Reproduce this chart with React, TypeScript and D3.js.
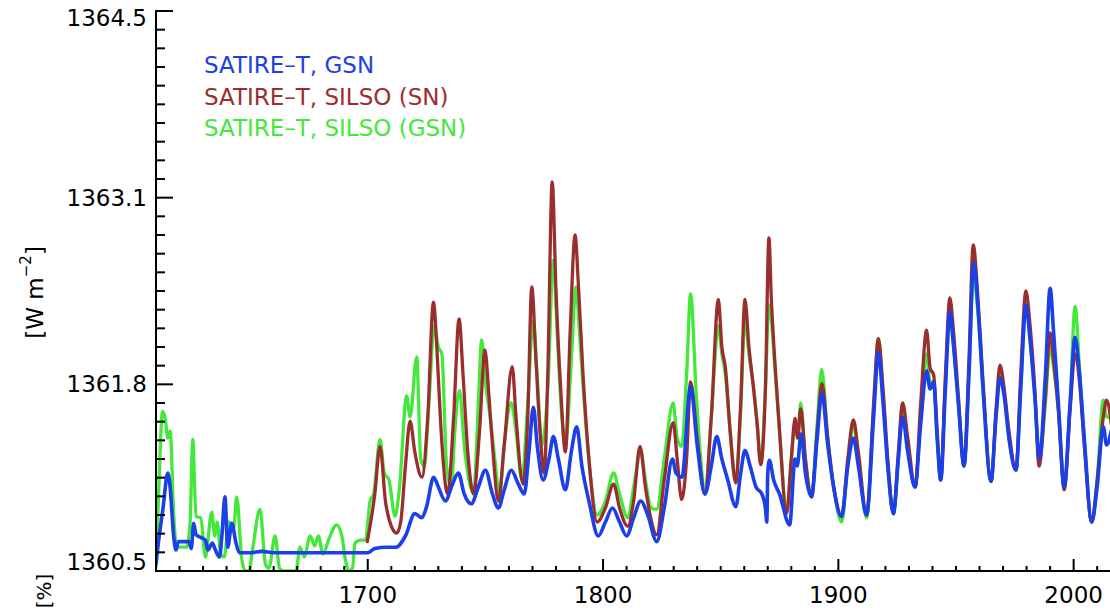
import React from "react";
import * as d3 from "d3";

// ---- data ----
const gsnSeries: [number, number][] = [
  [1610, 1360.55], [1611, 1360.7], [1613, 1360.95], [1615, 1361.2], [1616, 1361.1], [1617.5, 1360.75],
  [1618.5, 1360.65], [1619.5, 1360.71], [1624, 1360.71], [1625, 1360.66], [1626, 1360.84], [1627, 1360.76],
  [1629, 1360.74], [1631, 1360.72], [1632, 1360.65], [1634, 1360.7], [1635, 1360.66], [1637, 1360.6],
  [1638, 1360.75], [1639.3, 1361.03], [1640.5, 1360.67], [1642.2, 1360.84], [1644, 1360.7], [1645.5, 1360.63],
  [1650, 1360.63], [1655, 1360.64], [1660, 1360.63], [1680, 1360.63], [1700, 1360.63], [1703, 1360.66],
  [1708, 1360.67], [1712, 1360.67], [1716, 1360.75], [1720, 1360.91], [1723, 1360.88], [1725, 1360.96],
  [1728, 1361.17], [1730, 1361.1], [1733, 1361.0], [1736, 1361.12], [1738.5, 1361.2], [1741, 1361.05],
  [1744, 1360.98], [1747, 1361.1], [1750, 1361.22], [1753, 1361.05], [1755.5, 1360.95], [1758, 1361.08],
  [1761, 1361.22], [1764, 1361.12], [1766.5, 1361.05], [1768.5, 1361.35], [1770.4, 1361.67], [1772, 1361.4],
  [1774.5, 1361.15], [1777, 1361.3], [1778.9, 1361.46], [1781, 1361.3], [1784, 1361.08], [1786.5, 1361.35],
  [1788.8, 1361.53], [1791, 1361.25], [1794, 1361.0], [1798, 1360.75], [1801, 1360.85], [1804, 1360.95],
  [1807, 1360.85], [1810, 1360.75], [1813, 1360.88], [1816, 1361.0], [1819, 1360.9], [1822.8, 1360.71],
  [1826, 1360.95], [1829.5, 1361.3], [1831, 1361.2], [1833.5, 1361.17], [1837.2, 1361.82], [1840, 1361.4],
  [1843.3, 1361.05], [1846, 1361.25], [1848.3, 1361.46], [1850.5, 1361.3], [1853, 1361.15], [1856.4, 1360.96],
  [1858.5, 1361.2], [1860.3, 1361.36], [1862.5, 1361.25], [1865, 1361.1], [1867.5, 1361.05], [1869, 1360.95],
  [1869.6, 1360.85], [1870, 1361.2], [1870.7, 1361.29], [1872.5, 1361.15], [1875, 1361.05], [1879.3, 1360.83],
  [1881.6, 1361.3], [1882.5, 1361.25], [1884.2, 1361.48], [1886, 1361.2], [1888.6, 1361.03], [1891, 1361.45],
  [1893, 1361.77], [1895.5, 1361.4], [1898, 1361.1], [1901.4, 1360.89], [1904, 1361.25], [1906.4, 1361.45],
  [1908.5, 1361.25], [1912, 1360.9], [1915, 1361.6], [1917, 1362.06], [1919, 1361.7], [1921, 1361.25],
  [1923.4, 1360.91], [1925.5, 1361.3], [1927.3, 1361.6], [1929.5, 1361.35], [1932.6, 1361.1], [1935, 1361.55],
  [1937.5, 1361.93], [1939, 1361.8], [1940.5, 1361.85], [1942, 1361.45], [1943.5, 1361.15], [1945.5, 1361.8],
  [1947.4, 1362.35], [1949, 1362.1], [1951, 1361.7], [1953.4, 1361.25], [1955.5, 1361.9], [1957.5, 1362.7],
  [1959.5, 1362.35], [1961.5, 1361.8], [1964.9, 1361.14], [1967, 1361.6], [1968.7, 1361.88], [1970.5, 1361.75],
  [1972.5, 1361.45], [1975.5, 1361.22], [1977.5, 1361.8], [1979.7, 1362.4], [1981.5, 1362.15], [1983.5, 1361.75],
  [1985.5, 1361.3], [1988, 1361.9], [1990, 1362.52], [1991.5, 1362.2], [1993.5, 1361.7], [1996, 1361.1],
  [1998.5, 1361.7], [2000.6, 1362.17], [2002.5, 1361.9], [2004.5, 1361.45], [2007.7, 1360.85], [2010, 1361.1],
  [2012.6, 1361.53], [2014, 1361.4], [2016, 1361.5],
];

const silsoSnSeries: [number, number][] = [
  [1699.8, 1360.71], [1703, 1361.05], [1705.2, 1361.39], [1707.5, 1361.0], [1710, 1360.82], [1712.3, 1360.77],
  [1714, 1360.85], [1716, 1361.25], [1718, 1361.57], [1720, 1361.35], [1723, 1361.17], [1725.5, 1361.6],
  [1727.9, 1362.42], [1729.5, 1362.05], [1731, 1361.55], [1734, 1361.05], [1736.5, 1361.6], [1738.8, 1362.3],
  [1740.5, 1361.9], [1742.5, 1361.35], [1745, 1361.05], [1747.5, 1361.5], [1749.8, 1362.08], [1751.5, 1361.75],
  [1753, 1361.4], [1755.5, 1361.0], [1758, 1361.4], [1761.4, 1361.96], [1763, 1361.6], [1766, 1361.12],
  [1768, 1361.6], [1769.7, 1362.53], [1771.5, 1362.0], [1773, 1361.55], [1775, 1361.2], [1776.5, 1361.9],
  [1778.4, 1363.28], [1780, 1362.5], [1782, 1361.8], [1784, 1361.35], [1786, 1362.2], [1788.1, 1362.9],
  [1789.5, 1362.55], [1791.5, 1361.9], [1794, 1361.3], [1797.5, 1360.85], [1801, 1360.95], [1804.5, 1361.12],
  [1807, 1360.95], [1810.5, 1360.82], [1813, 1361.0], [1815.7, 1361.39], [1818, 1361.1], [1820, 1360.9],
  [1822.8, 1360.76], [1826, 1361.15], [1829.8, 1361.56], [1831.5, 1361.3], [1833.4, 1361.01], [1835.5, 1361.3],
  [1837.2, 1361.85], [1840, 1361.45], [1843.3, 1361.05], [1846, 1361.6], [1849, 1362.44], [1850.5, 1362.1],
  [1852, 1361.95], [1854, 1361.5], [1856.4, 1361.13], [1858.5, 1361.7], [1860.3, 1362.44], [1862, 1362.1],
  [1864, 1361.8], [1865.5, 1361.55], [1867, 1361.26], [1869, 1361.8], [1870.5, 1362.88], [1871.5, 1362.45],
  [1873, 1362.0], [1875, 1361.5], [1878, 1360.91], [1880, 1361.3], [1881.6, 1361.59], [1882.7, 1361.45],
  [1884, 1361.66], [1886, 1361.3], [1888.6, 1361.03], [1891, 1361.5], [1893, 1361.84], [1895.5, 1361.45],
  [1898, 1361.1], [1901.4, 1360.89], [1904, 1361.3], [1906.4, 1361.58], [1908.5, 1361.35], [1912, 1360.9],
  [1915, 1361.7], [1917, 1362.16], [1919, 1361.8], [1921, 1361.3], [1923.4, 1360.91], [1925.5, 1361.35],
  [1927.3, 1361.7], [1929.5, 1361.45], [1932.6, 1361.1], [1935, 1361.7], [1937.5, 1362.22], [1939, 1361.95],
  [1940.5, 1361.9], [1942, 1361.5], [1943.5, 1361.15], [1945.5, 1361.9], [1947.4, 1362.45], [1949, 1362.2],
  [1951, 1361.75], [1953.4, 1361.25], [1955.5, 1362.0], [1957.3, 1362.83], [1959.5, 1362.4], [1961.5, 1361.85],
  [1964.9, 1361.14], [1967, 1361.65], [1968.7, 1361.97], [1970.5, 1361.8], [1972.5, 1361.5], [1975.5, 1361.22],
  [1977.5, 1361.9], [1979.7, 1362.5], [1981.5, 1362.25], [1983.5, 1361.8], [1985.3, 1361.25], [1988, 1361.75],
  [1990, 1362.2], [1991.5, 1362.0], [1993.5, 1361.65], [1996, 1361.08], [1998.5, 1361.65], [2000.6, 1362.05],
  [2002.5, 1361.85], [2004.5, 1361.4], [2007.7, 1360.85], [2010, 1361.15], [2012.6, 1361.6], [2014, 1361.72],
  [2016, 1361.55],
];

const silsoGsnSeries: [number, number][] = [
  [1610, 1360.53], [1611, 1361.0], [1612.8, 1361.64], [1614, 1361.58], [1615, 1361.45], [1616, 1361.5],
  [1617.5, 1360.91], [1618.5, 1360.7], [1620, 1360.67], [1623, 1360.67], [1624.5, 1360.85], [1625.6, 1361.44],
  [1627, 1360.89], [1629, 1360.88], [1631, 1360.6], [1633.7, 1360.92], [1635, 1360.75], [1636, 1360.85],
  [1637.5, 1360.62], [1639, 1360.6], [1641, 1360.85], [1643, 1360.8], [1644.3, 1361.03], [1646.5, 1360.58],
  [1648, 1360.5], [1649.5, 1360.5], [1651, 1360.65], [1654.2, 1360.94], [1656.5, 1360.55], [1658, 1360.52],
  [1660.6, 1360.75], [1662.5, 1360.52], [1664, 1360.5], [1669.5, 1360.5], [1671.2, 1360.67], [1673, 1360.6],
  [1675.5, 1360.75], [1677.5, 1360.68], [1679, 1360.75], [1681, 1360.62], [1683.5, 1360.73], [1686.8, 1360.83],
  [1689, 1360.75], [1690.5, 1360.58], [1692, 1360.5], [1693.5, 1360.52], [1694.6, 1360.7], [1697, 1360.72],
  [1699, 1360.72], [1701, 1361.0], [1702.5, 1361.05], [1705.2, 1361.44], [1707, 1361.2], [1709, 1361.15],
  [1711.6, 1360.89], [1713.5, 1361.1], [1716.5, 1361.75], [1718, 1361.6], [1720.8, 1362.03], [1722.5, 1361.3],
  [1724, 1361.25], [1726, 1361.7], [1728.2, 1362.25], [1730, 1362.1], [1731.5, 1362.05], [1733.5, 1361.25],
  [1735.5, 1361.1], [1737, 1361.5], [1739, 1361.79], [1741, 1361.4], [1743, 1361.15], [1745, 1361.05],
  [1747, 1361.7], [1748.4, 1362.15], [1750, 1361.85], [1752, 1361.6], [1754, 1361.3], [1756, 1361.05],
  [1758, 1361.4], [1761, 1361.7], [1763, 1361.5], [1765.5, 1361.15], [1768, 1361.7], [1770.3, 1362.29],
  [1772, 1361.9], [1774, 1361.4], [1776.5, 1361.8], [1778.9, 1362.72], [1780.5, 1362.2], [1782.5, 1361.6],
  [1784, 1361.4], [1786.5, 1362.0], [1788.5, 1362.53], [1790, 1362.2], [1792, 1361.7], [1794.5, 1361.2],
  [1797.5, 1360.9], [1801, 1361.0], [1804.5, 1361.2], [1807, 1361.05], [1810.5, 1360.88], [1813, 1361.1],
  [1816, 1361.35], [1818, 1361.15], [1820.5, 1360.95], [1822.8, 1360.94], [1826, 1361.3], [1829.8, 1361.7],
  [1831.5, 1361.45], [1833.4, 1361.39], [1835.5, 1361.9], [1837.2, 1362.48], [1839.5, 1361.8], [1841.5, 1361.3],
  [1843.3, 1361.05], [1846, 1361.6], [1849, 1362.25], [1850.5, 1362.05], [1852, 1361.9], [1854, 1361.5],
  [1856.4, 1361.13], [1858.5, 1361.65], [1860.3, 1362.3], [1862, 1362.05], [1864, 1361.8], [1865.5, 1361.55],
  [1867, 1361.26], [1869, 1361.8], [1870.5, 1362.4], [1871.5, 1362.3], [1873, 1361.95], [1875, 1361.5],
  [1878, 1360.92], [1880, 1361.3], [1881.6, 1361.55], [1882.7, 1361.45], [1884, 1361.7], [1886, 1361.3],
  [1888.6, 1361.05], [1891, 1361.55], [1892.9, 1361.94], [1895.5, 1361.45], [1898, 1361.1], [1901.4, 1360.85],
  [1904, 1361.25], [1906.4, 1361.55], [1908.5, 1361.3], [1912, 1360.88], [1915, 1361.65], [1917, 1362.16],
  [1919, 1361.75], [1921, 1361.25], [1923.4, 1360.91], [1925.5, 1361.3], [1927.3, 1361.7], [1929.5, 1361.4],
  [1932.6, 1361.1], [1935, 1361.6], [1937.5, 1362.05], [1939, 1361.85], [1940.5, 1361.85], [1942, 1361.45],
  [1943.5, 1361.15], [1945.5, 1361.85], [1947.4, 1362.3], [1949, 1362.1], [1951, 1361.7], [1953.4, 1361.25],
  [1955.5, 1361.9], [1957.3, 1362.6], [1959.5, 1362.3], [1961.5, 1361.8], [1964.9, 1361.14], [1967, 1361.6],
  [1968.7, 1361.9], [1970.5, 1361.75], [1972.5, 1361.45], [1975.5, 1361.22], [1977.5, 1361.8], [1979.7, 1362.4],
  [1981.5, 1362.15], [1983.5, 1361.75], [1985.3, 1361.28], [1988, 1361.7], [1990, 1362.1], [1991.5, 1361.95],
  [1993.5, 1361.65], [1996, 1361.1], [1998.5, 1361.7], [2000.6, 1362.39], [2002.5, 1361.95], [2004.5, 1361.45],
  [2007.7, 1360.85], [2010, 1361.15], [2012.6, 1361.72], [2014, 1361.6], [2016, 1361.6],
];

const legendLabels = ["SATIRE\u2013T, GSN", "SATIRE\u2013T, SILSO (SN)", "SATIRE\u2013T, SILSO (GSN)"];
const seriesColors = ["#1b3fe8", "#9a2e2e", "#44e83a"];

const xMajorTicks = [1700, 1800, 1900, 2000];
const xTickLabels = ["1700", "1800", "1900", "2000"];
const yTickValues = [1360.5, 1361.8333, 1363.1667, 1364.5];
const yTickLabels = ["1360.5", "1361.8", "1363.1", "1364.5"];

const W = 1110;
const H = 611;
const FONT = "'DejaVu Sans', Verdana, sans-serif";

export default function App() {
  const x = d3.scaleLinear().domain([1610, 2020]).range([156, 1120.7]);
  const y = d3.scaleLinear().domain([1360.5, 1364.5]).range([571, 11]);
  const line = d3
    .line<[number, number]>()
    .x((d) => x(d[0]))
    .y((d) => y(d[1]))
    .curve(d3.curveMonotoneX);

  const yMinor = d3.range(31).map((i) => 1360.5 + (i * 4) / 30);
  const xMinor = d3.range(1610, 2021, 10);

  const plotLeft = x(1610);
  const plotBottom = y(1360.5);
  const plotTop = y(1364.5);

  return (
    <svg
      width={W}
      height={H}
      style={{ position: "absolute", left: 0, top: 0, background: "#fff" }}
      fontFamily={FONT}
    >
      <defs>
        <clipPath id="plotclip">
          <rect x={plotLeft} y={plotTop - 2} width={W - plotLeft} height={plotBottom - plotTop + 3} />
        </clipPath>
      </defs>
      <rect x={0} y={0} width={W} height={H} fill="#fff" />

      <g clipPath="url(#plotclip)" fill="none" strokeLinejoin="round" strokeLinecap="round">
        <path d={line(silsoGsnSeries) || ""} stroke={seriesColors[2]} strokeWidth={3.3} />
        <path d={line(silsoSnSeries) || ""} stroke={seriesColors[1]} strokeWidth={3.3} />
        <path d={line(gsnSeries) || ""} stroke={seriesColors[0]} strokeWidth={3.6} />
      </g>

      {/* y axis */}
      <line x1={plotLeft} x2={plotLeft} y1={plotTop - 1} y2={plotBottom + 1} stroke="#000" strokeWidth={2} />
      {yMinor.map((v, i) => (
        <line
          key={"ym" + i}
          x1={plotLeft}
          x2={plotLeft + (i % 10 === 0 ? 17 : 9)}
          y1={y(v)}
          y2={y(v)}
          stroke="#000"
          strokeWidth={2}
        />
      ))}
      {yTickValues.map((v, i) => (
        <text
          key={"yl" + i}
          x={plotLeft - 9}
          y={Math.min(Math.max(y(v), 18), 562)}
          textAnchor="end"
          dominantBaseline="central"
          fontSize={23}
          fill="#000"
        >
          {yTickLabels[i]}
        </text>
      ))}

      {/* x axis */}
      <line x1={plotLeft - 1} x2={W} y1={plotBottom} y2={plotBottom} stroke="#000" strokeWidth={2} />
      {xMinor.map((v) => (
        <line
          key={"xm" + v}
          x1={x(v)}
          x2={x(v)}
          y1={plotBottom}
          y2={plotBottom - (v % 100 === 0 ? 12 : 5)}
          stroke="#000"
          strokeWidth={2}
        />
      ))}
      {xMajorTicks.map((v, i) => (
        <text key={"xl" + v} x={x(v)} y={595} textAnchor="middle" dominantBaseline="central" fontSize={23} fill="#000">
          {xTickLabels[i]}
        </text>
      ))}

      {/* y axis title */}
      <text
        transform={`translate(35, ${y(1362.49)}) rotate(-90)`}
        textAnchor="middle"
        dominantBaseline="central"
        fontSize={23}
        fill="#000"
      >
        [W m<tspan dy={-9} fontSize={15}>{"\u22122"}</tspan>
        <tspan dy={9}>]</tspan>
      </text>
      <text transform="translate(44, 591) rotate(-90)" textAnchor="middle" dominantBaseline="central" fontSize={20} fill="#000">
        [%]
      </text>

      {/* legend */}
      {legendLabels.map((t, i) => (
        <text key={"lg" + i} x={204} y={65 + i * 31.7} dominantBaseline="central" fontSize={23} fill={seriesColors[i]}>
          {t}
        </text>
      ))}
    </svg>
  );
}
